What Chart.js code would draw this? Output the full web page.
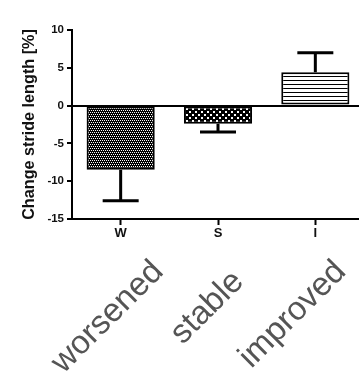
<!DOCTYPE html>
<html lang="en">
<head>
  <meta charset="UTF-8">
  <title>Change stride length</title>
  <script src="https://cdn.jsdelivr.net/npm/chart.js"></script>
  <style>
    html, body { margin: 0; padding: 0; overflow: hidden; background: #fff; }
  </style>
</head>
<body>

<canvas id="strideChart" width="364" height="378"></canvas>

<script>
  // values
  const groups = ['W', 'S', 'I'];
  const groupNames = ['worsened', 'stable', 'improved'];
  const meanChange = [-8.5, -2.4, 4.4];
  const errChange = [4.1, 1.1, 2.6];
  const yTicks = [10, 5, 0, -5, -10, -15];

  const canvas = document.getElementById('strideChart');
  const ctx = canvas.getContext('2d');

  // small tile patterns for the bar fills
  function makePattern(w, h, bg, fg, cells) {
    const c = document.createElement('canvas');
    c.width = w;
    c.height = h;
    const g = c.getContext('2d');
    g.fillStyle = bg;
    g.fillRect(0, 0, w, h);
    g.fillStyle = fg;
    cells.forEach(([x, y, cw, ch]) => g.fillRect(x, y, cw, ch));
    return ctx.createPattern(c, 'repeat');
  }

  const fills = [
    makePattern(4, 4, '#000', '#fff', [[0, 0, 1, 1], [2, 0, 1, 1], [1, 2, 1, 1], [3, 2, 1, 1]]),
    makePattern(6, 6, '#000', '#fff', [[0, 0, 2, 2], [3, 3, 2, 2]]),
    makePattern(4, 4, '#fff', '#000', [[0, 0, 4, 1]])
  ];

  // one-sided error bars, away from zero
  const errorBars = {
    id: 'errorBars',
    afterDatasetsDraw(chart) {
      const meta = chart.getDatasetMeta(0);
      const y = chart.scales.y;
      const c = chart.ctx;
      c.save();
      c.strokeStyle = '#000';
      c.lineWidth = 3;
      meta.data.forEach((bar, i) => {
        const v = meanChange[i];
        const end = v + Math.sign(v) * errChange[i];
        const y0 = y.getPixelForValue(v);
        const y1 = y.getPixelForValue(end);
        c.beginPath();
        c.moveTo(bar.x, y0);
        c.lineTo(bar.x, y1);
        c.moveTo(bar.x - 18, y1);
        c.lineTo(bar.x + 18, y1);
        c.stroke();
      });
      c.restore();
    }
  };

  // big slanted group names under the axis
  const slantedNames = {
    id: 'slantedNames',
    afterDraw(chart, args, opts) {
      const x = chart.scales.x;
      const c = chart.ctx;
      c.save();
      c.font = opts.font;
      c.fillStyle = opts.color;
      c.textAlign = 'right';
      c.textBaseline = 'alphabetic';
      groupNames.forEach((name, i) => {
        const [dx, dy] = opts.nudge[i];
        c.save();
        c.translate(x.getPixelForValue(i) + dx, chart.chartArea.bottom + dy);
        c.rotate(-Math.PI / 4);
        c.fillText(name, 0, 0);
        c.restore();
      });
      c.restore();
    }
  };

  new Chart(ctx, {
    type: 'bar',
    data: {
      labels: groups,
      datasets: [{
        data: meanChange,
        backgroundColor: fills,
        borderColor: '#000',
        borderWidth: 2,
        borderSkipped: false,
        barPercentage: 0.7,
        categoryPercentage: 1.0
      }]
    },
    options: {
      responsive: false,
      animation: false,
      layout: { padding: { top: 30, left: 0, right: 0, bottom: 0 } },
      plugins: {
        legend: { display: false },
        tooltip: { enabled: false },
        slantedNames: {
          font: '33px "Liberation Sans", Arial, sans-serif',
          color: '#555',
          nudge: [[44, 54], [27, 64], [32, 54]]
        }
      },
      scales: {
        x: {
          offset: true,
          afterFit(scale) { scale.height = 159; },
          grid: {
            offset: false,
            drawOnChartArea: false,
            tickLength: 6,
            tickColor: '#000',
            tickWidth: 2
          },
          border: { color: '#000', width: 2 },
          ticks: {
            padding: 1,
            color: '#111',
            font: { family: '"Liberation Sans", Arial, sans-serif', size: 13, weight: 'bold' }
          }
        },
        y: {
          min: -15,
          max: 10,
          afterFit(scale) { scale.width = 72; },
          afterBuildTicks(scale) { scale.ticks = yTicks.map(v => ({ value: v })); },
          grid: {
            color: c => (c.tick && c.tick.value === 0 ? '#000' : 'rgba(0,0,0,0)'),
            lineWidth: 2,
            tickColor: '#000',
            tickWidth: 2,
            tickLength: 5
          },
          border: { color: '#000', width: 2 },
          ticks: {
            padding: 3,
            color: '#111',
            font: { family: '"Liberation Sans", Arial, sans-serif', size: 11.5, weight: 'bold' }
          },
          title: {
            display: true,
            text: 'Change stride length [%]',
            color: '#111',
            padding: { top: 20, bottom: 0 },
            font: { family: '"Liberation Sans", Arial, sans-serif', size: 16.2, weight: 'bold' }
          }
        }
      }
    },
    plugins: [errorBars, slantedNames]
  });
</script>

</body>
</html>
